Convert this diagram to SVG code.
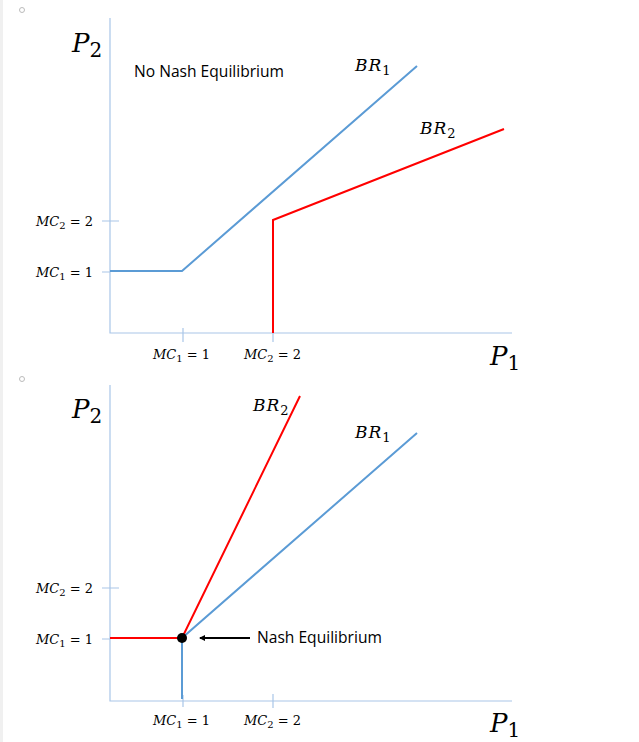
<svg xmlns="http://www.w3.org/2000/svg" width="639" height="742" viewBox="0 0 639 742">
<style>
.ax{stroke:#a9c6e8;stroke-width:1.2;fill:none}
.b{stroke:#5b9bd5;stroke-width:2;fill:none}
.r{stroke:#ff0000;stroke-width:2;fill:none}
.m{font-family:"DejaVu Serif","Liberation Serif",serif;font-style:italic;fill:#000}
.t{font-family:"Open Sans","Liberation Sans",sans-serif;font-size:15.6px;fill:#000}
</style>
<defs><marker id="ah" markerWidth="6" markerHeight="6" refX="5" refY="3" orient="auto" markerUnits="userSpaceOnUse"><path d="M0,0 L6,3 L0,6 z" fill="#000"/></marker></defs>
<rect x="0" y="0" width="3" height="742" fill="#f0f0f0"/>
<circle cx="22" cy="10" r="2.5" fill="none" stroke="#bbb"/>
<circle cx="22" cy="379" r="2.5" fill="none" stroke="#bbb"/>
<g id="top">
<path class="ax" d="M110,18 V333 H512 M183,328 V342 M273,328 V342 M102,221 H119 M102,272 H110"/>
<g id="connectors-top">
<polyline class="b" points="110,271 182,271 417,66"/>
<polyline class="r" points="273,333 273,220 504,129"/>
</g>
<text class="m" x="72" y="52" font-size="26">P<tspan font-style="normal" font-size="20" dy="5">2</tspan></text>
<text class="t" x="134" y="77">No Nash Equilibrium</text>
<text class="m" x="355" y="71" font-size="17" letter-spacing="1">BR<tspan font-style="normal" font-size="13" dy="4">1</tspan></text>
<text class="m" x="420" y="134" font-size="17" letter-spacing="1">BR<tspan font-style="normal" font-size="13" dy="4">2</tspan></text>
<text class="m" x="36" y="226" font-size="13">MC<tspan font-style="normal" font-size="10" dy="3">2</tspan><tspan font-style="normal" dy="-3"> = 2</tspan></text>
<text class="m" x="36" y="277" font-size="13">MC<tspan font-style="normal" font-size="10" dy="3">1</tspan><tspan font-style="normal" dy="-3"> = 1</tspan></text>
<text class="m" x="153" y="359" font-size="13">MC<tspan font-style="normal" font-size="10" dy="3">1</tspan><tspan font-style="normal" dy="-3"> = 1</tspan></text>
<text class="m" x="244" y="359" font-size="13">MC<tspan font-style="normal" font-size="10" dy="3">2</tspan><tspan font-style="normal" dy="-3"> = 2</tspan></text>
<text class="m" x="490" y="365" font-size="26">P<tspan font-style="normal" font-size="20" dy="5">1</tspan></text>
</g>
<g id="bottom">
<path class="ax" d="M110,385 V701 H512 M183,695 V707 M273,694 V708 M102,588 H119 M102,639 H110"/>
<g id="connectors-bottom">
<polyline class="r" points="110,638 182,638 300,396"/>
<polyline class="b" points="182,699 182,638 417,433"/>
<line x1="250" y1="638" x2="200" y2="638" stroke="#000" stroke-width="1.8" marker-end="url(#ah)"/>
</g>
<circle id="ne" cx="182" cy="638" r="5" fill="#000"/>
<text class="m" x="72" y="418" font-size="26">P<tspan font-style="normal" font-size="20" dy="5">2</tspan></text>
<text class="m" x="253" y="411" font-size="17" letter-spacing="1">BR<tspan font-style="normal" font-size="13" dy="4">2</tspan></text>
<text class="m" x="355" y="438" font-size="17" letter-spacing="1">BR<tspan font-style="normal" font-size="13" dy="4">1</tspan></text>
<text class="t" x="257" y="643">Nash Equilibrium</text>
<text class="m" x="36" y="593" font-size="13">MC<tspan font-style="normal" font-size="10" dy="3">2</tspan><tspan font-style="normal" dy="-3"> = 2</tspan></text>
<text class="m" x="36" y="644" font-size="13">MC<tspan font-style="normal" font-size="10" dy="3">1</tspan><tspan font-style="normal" dy="-3"> = 1</tspan></text>
<text class="m" x="153" y="725" font-size="13">MC<tspan font-style="normal" font-size="10" dy="3">1</tspan><tspan font-style="normal" dy="-3"> = 1</tspan></text>
<text class="m" x="244" y="725" font-size="13">MC<tspan font-style="normal" font-size="10" dy="3">2</tspan><tspan font-style="normal" dy="-3"> = 2</tspan></text>
<text class="m" x="490" y="732" font-size="26">P<tspan font-style="normal" font-size="20" dy="5">1</tspan></text>
</g>
</svg>
